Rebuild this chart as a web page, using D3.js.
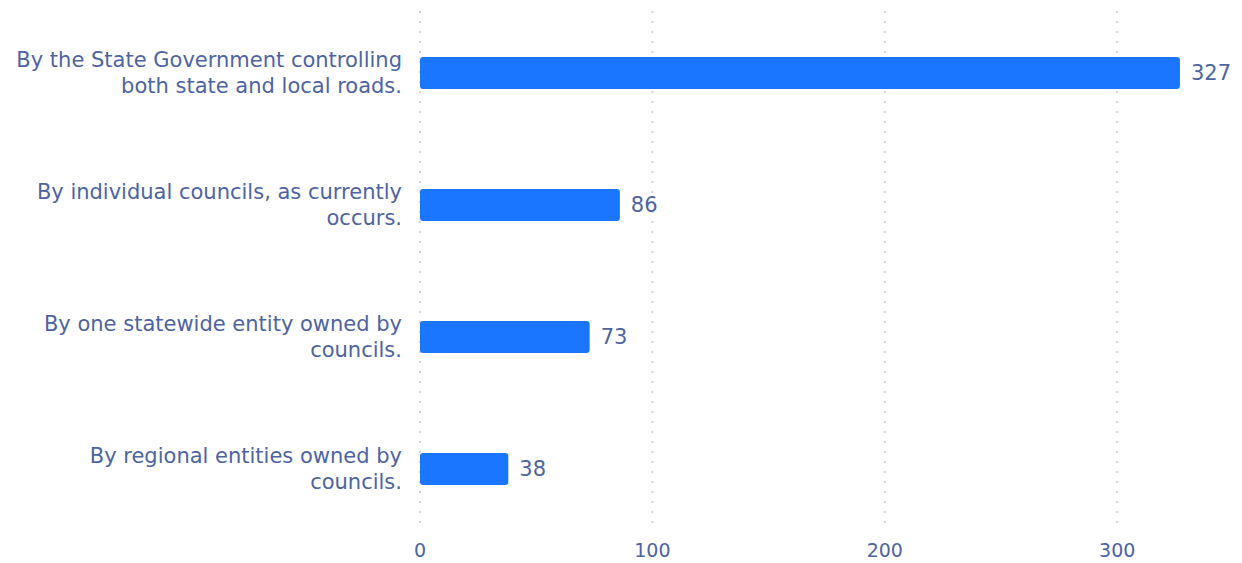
<!DOCTYPE html>
<html><head><meta charset="utf-8">
<script src="https://cdn.jsdelivr.net/npm/d3@7"></script>
<style>body{margin:0;background:#fff;}svg{display:block;}</style>
</head><body>
<svg id="chart" width="1242" height="563"></svg>
<script>
const categories = [
  ["By the State Government controlling", "both state and local roads."],
  ["By individual councils, as currently", "occurs."],
  ["By one statewide entity owned by", "councils."],
  ["By regional entities owned by", "councils."]
];
const values = [327, 86, 73, 38];
const tickValues = [0, 100, 200, 300];

(function() {
const svg = d3.select("#chart");
const mLeft = 420, mTop = 7, mBottom = 535;
const x = d3.scaleLinear().domain([0, 100]).range([mLeft, mLeft + 232.4]);
const y = d3.scaleBand().domain(d3.range(values.length)).range([mTop, mBottom]).paddingInner(0.758).paddingOuter(0.379);
const font = "'DejaVu Sans', sans-serif";
const textColor = "#4d64a3";

// grid
svg.append("g").selectAll("line").data(tickValues).join("line")
  .attr("x1", d => x(d)).attr("x2", d => x(d))
  .attr("y1", 11).attr("y2", 528)
  .attr("stroke", "#d3d3d3").attr("stroke-width", 2)
  .attr("stroke-dasharray", "2,8");

// x tick labels
svg.append("g").selectAll("text").data(tickValues).join("text")
  .attr("x", d => x(d)).attr("y", 557)
  .attr("text-anchor", "middle")
  .attr("font-family", font).attr("font-size", 19).attr("fill", textColor)
  .text(d => d);

// bars
svg.append("g").selectAll("rect").data(values).join("rect")
  .attr("x", x(0)).attr("y", (d, i) => y(i))
  .attr("width", d => x(d) - x(0)).attr("height", y.bandwidth())
  .attr("rx", 3).attr("fill", "#1a75ff");

// value labels
svg.append("g").selectAll("text").data(values).join("text")
  .attr("x", d => x(d) + 11).attr("y", (d, i) => y(i) + y.bandwidth() / 2)
  .attr("dy", "0.35em")
  .attr("font-family", font).attr("font-size", 21).attr("fill", textColor)
  .text(d => d);

// category labels
const cl = svg.append("g").selectAll("text").data(categories).join("text")
  .attr("text-anchor", "end")
  .attr("font-family", font).attr("font-size", 21).attr("fill", textColor);
cl.each(function(lines, i) {
  const c = y(i) + y.bandwidth() / 2;
  d3.select(this).selectAll("tspan").data(lines).join("tspan")
    .attr("x", 402).attr("y", (d, j) => c - 13 + j * 26)
    .attr("dy", "0.35em").text(d => d);
});
})();
</script>
</body></html>
